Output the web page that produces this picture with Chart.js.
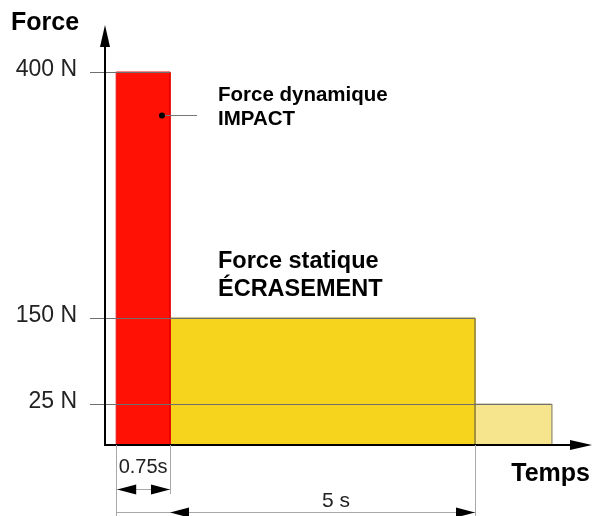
<!DOCTYPE html>
<html>
<head>
    <title>Force / Temps</title>
    <script src="https://cdn.jsdelivr.net/npm/chart.js"></script>
    <style>
        body { margin: 0; background: #fff; }
    </style>
</head>
<body>
    <canvas id="forceChart" width="595" height="516"></canvas>
    <script>
        // time boundaries (s) and force level (N) of each phase
        const times = [0, 0.75, 5, 6.07];
        const forces = [400, 150, 25];
        const forceTicks = ['400 N', '150 N', '25 N'];
        const tickValues = [400, 150, 25];
        const phaseColors = ['#ff1205', '#f6d31c', '#f7e58e'];
        const phaseBorders = ['#e80000', '#9a8a3a', '#b0a680'];

        // the y axis of the drawing is not to scale: piecewise linear between stops
        class StopScale extends Chart.LinearScale {
            _frac(v) {
                const s = this.options.stops;
                for (let i = 1; i < s.length; i++) {
                    if (v <= s[i][0] || i === s.length - 1) {
                        const a = s[i - 1], b = s[i];
                        return a[1] + (v - a[0]) / (b[0] - a[0]) * (b[1] - a[1]);
                    }
                }
                return 0;
            }
            getPixelForValue(v) {
                return this.bottom - this._frac(v) * (this.bottom - this.top);
            }
            getValueForPixel(p) {
                const f = (this.bottom - p) / (this.bottom - this.top);
                const s = this.options.stops;
                for (let i = 1; i < s.length; i++) {
                    if (f <= s[i][1] || i === s.length - 1) {
                        const a = s[i - 1], b = s[i];
                        return a[0] + (f - a[1]) / (b[1] - a[1]) * (b[0] - a[0]);
                    }
                }
                return 0;
            }
        }
        StopScale.id = 'stops';
        StopScale.defaults = Chart.LinearScale.defaults;
        Chart.register(StopScale);

        const datasets = forces.map((f, i) => ({
            data: [
                {x: times[i], y: 0},
                {x: times[i], y: f},
                {x: times[i + 1], y: f},
                {x: times[i + 1], y: 0}
            ],
            backgroundColor: phaseColors[i],
            borderColor: phaseBorders[i],
            borderWidth: 1,
            pointRadius: 0,
            fill: 'origin',
            tension: 0
        }));

        function arrowHead(ctx, x, y, dir, len, half) {
            ctx.beginPath();
            if (dir === 'up') {
                ctx.moveTo(x, y); ctx.lineTo(x - half, y + len); ctx.lineTo(x + half, y + len);
            } else if (dir === 'right') {
                ctx.moveTo(x, y); ctx.lineTo(x - len, y - half); ctx.lineTo(x - len, y + half);
            } else {
                ctx.moveTo(x, y); ctx.lineTo(x + len, y - half); ctx.lineTo(x + len, y + half);
            }
            ctx.closePath();
            ctx.fill();
        }

        const overlay = {
            id: 'overlay',
            afterDatasetsDraw(chart) {
                const ctx = chart.ctx;
                const xs = chart.scales.x, ys = chart.scales.y;
                const area = chart.chartArea;
                const x0 = area.left, yb = area.bottom;
                ctx.save();

                // level lines
                ctx.strokeStyle = '#6f6f6f';
                ctx.lineWidth = 1;
                forces.forEach((f, i) => {
                    const y = Math.round(ys.getPixelForValue(f)) + 0.5;
                    ctx.beginPath();
                    ctx.moveTo(90, y);
                    ctx.lineTo(xs.getPixelForValue(times[i + 1]), y);
                    ctx.stroke();
                });

                // tick labels
                ctx.fillStyle = '#222';
                ctx.font = '23px "Liberation Sans", Arial, sans-serif';
                ctx.textAlign = 'right';
                ctx.textBaseline = 'middle';
                tickValues.forEach((v, i) => {
                    ctx.fillText(forceTicks[i], 77, ys.getPixelForValue(v) - 2);
                });

                // axes
                ctx.strokeStyle = '#000';
                ctx.fillStyle = '#000';
                ctx.lineWidth = 2;
                ctx.beginPath();
                ctx.moveTo(x0 + 1, yb);
                ctx.lineTo(x0 + 1, area.top + 15);
                ctx.moveTo(x0, yb);
                ctx.lineTo(area.right - 15, yb);
                ctx.stroke();
                arrowHead(ctx, x0 + 1, area.top, 'up', 22, 5);
                arrowHead(ctx, area.right, yb, 'right', 22, 5);

                // axis titles
                ctx.font = 'bold 25px "Liberation Sans", Arial, sans-serif';
                ctx.textAlign = 'left';
                ctx.fillText('Force', 11, 23);
                ctx.textAlign = 'right';
                ctx.fillText('Temps', 590, 474);

                // dimension lines
                const t0 = xs.getPixelForValue(times[0]);
                const t1 = xs.getPixelForValue(times[1]);
                const t2 = xs.getPixelForValue(times[2]);
                ctx.strokeStyle = '#a8a8a8';
                ctx.lineWidth = 1;
                ctx.beginPath();
                ctx.moveTo(Math.round(t0) + 0.5, yb); ctx.lineTo(Math.round(t0) + 0.5, 516);
                ctx.moveTo(Math.round(t1) + 0.5, yb); ctx.lineTo(Math.round(t1) + 0.5, 494);
                ctx.moveTo(Math.round(t2) + 0.5, yb); ctx.lineTo(Math.round(t2) + 0.5, 516);
                ctx.moveTo(t0, 489.5); ctx.lineTo(t1, 489.5);
                ctx.moveTo(t0, 512.5); ctx.lineTo(t2, 512.5);
                ctx.stroke();
                ctx.fillStyle = '#000';
                arrowHead(ctx, t0 + 1, 489.5, 'left', 19, 5);
                arrowHead(ctx, t1, 489.5, 'right', 19, 5);
                arrowHead(ctx, t1, 512.5, 'left', 19, 5);
                arrowHead(ctx, t2, 512.5, 'right', 19, 5);

                ctx.fillStyle = '#222';
                ctx.font = '20px "Liberation Sans", Arial, sans-serif';
                ctx.textAlign = 'center';
                ctx.fillText('0.75s', (t0 + t1) / 2, 467);
                ctx.font = '21px "Liberation Sans", Arial, sans-serif';
                ctx.fillText('5 s', 336, 501);

                // annotations
                ctx.fillStyle = '#000';
                ctx.textAlign = 'left';
                ctx.font = 'bold 20.5px "Liberation Sans", Arial, sans-serif';
                ctx.fillText('Force dynamique', 218, 95);
                ctx.fillText('IMPACT', 218, 119);
                ctx.font = 'bold 23.5px "Liberation Sans", Arial, sans-serif';
                ctx.fillText('Force statique', 218, 262);
                ctx.fillText('ÉCRASEMENT', 218, 290);

                ctx.strokeStyle = '#777';
                ctx.beginPath();
                ctx.moveTo(162, 115.5);
                ctx.lineTo(197, 115.5);
                ctx.stroke();
                ctx.beginPath();
                ctx.arc(162, 115.5, 3, 0, Math.PI * 2);
                ctx.fill();

                ctx.restore();
            }
        };

        new Chart(document.getElementById('forceChart'), {
            type: 'line',
            data: { datasets: datasets },
            options: {
                responsive: false,
                animation: false,
                events: [],
                layout: { padding: { left: 104, right: 3, top: 25, bottom: 71 } },
                plugins: { legend: { display: false }, tooltip: { enabled: false } },
                scales: {
                    x: { type: 'linear', min: -0.17, max: 6.63, display: false },
                    y: {
                        type: 'stops', min: 0, max: 450, display: false,
                        stops: [[0, 0], [25, 0.0976], [150, 0.3024], [400, 0.888], [450, 1]]
                    }
                }
            },
            plugins: [overlay]
        });
    </script>
</body>
</html>
